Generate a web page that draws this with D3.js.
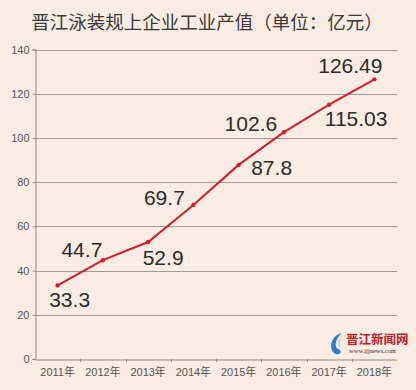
<!DOCTYPE html>
<html>
<head>
<meta charset="utf-8">
<script src="https://d3js.org/d3.v7.min.js"></script>
<style>
  body { margin: 0; background: #fbece3; }
  svg { display: block; }
</style>
</head>
<body>
<div id="chart"></div>
<script>
var years = ["2011年", "2012年", "2013年", "2014年", "2015年", "2016年", "2017年", "2018年"];
var values = [33.3, 44.7, 52.9, 69.7, 87.8, 102.6, 115.03, 126.49];
var valueLabels = ["33.3", "44.7", "52.9", "69.7", "87.8", "102.6", "115.03", "126.49"];
var yTicks = [0, 20, 40, 60, 80, 100, 120, 140];
// where each number sits relative to its point
var labelOffsets = [[12, 22], [-21, -3], [15, 23], [-29, 0], [33, 10], [-33, -1], [27, 21], [-24, -6]];

var width = 416, height = 390;
var plotLeft = 35, plotRight = 397, plotTop = 49.5, plotBottom = 359;

var svg = d3.select("#chart")
    .append("svg")
    .attr("width", width)
    .attr("height", height);

svg.append("rect")
    .attr("width", width)
    .attr("height", height)
    .attr("fill", "#fbece3");

// Title
svg.append("text")
    .attr("x", 207)
    .attr("y", 29)
    .attr("text-anchor", "middle")
    .attr("font-family", "'Noto Sans CJK SC', sans-serif")
    .attr("font-size", "18.5px")
    .attr("fill", "#3a3a3a")
    .text("晋江泳装规上企业工业产值（单位：亿元）");

var xScale = d3.scaleBand()
    .domain(years)
    .range([plotLeft, plotRight]);

var yScale = d3.scaleLinear()
    .domain([0, 140])
    .range([plotBottom, plotTop]);

// Gridlines
svg.append("g")
    .selectAll("line")
    .data(yTicks.filter(function(d) { return d > 0; }))
    .enter().append("line")
    .attr("x1", plotLeft)
    .attr("x2", plotRight)
    .attr("y1", function(d) { return Math.round(yScale(d)) + 0.5; })
    .attr("y2", function(d) { return Math.round(yScale(d)) + 0.5; })
    .attr("stroke", "#a09a96")
    .attr("stroke-width", 1);

// y-axis
var yAxis = svg.append("g")
    .attr("transform", "translate(" + (plotLeft + 0.5) + ",0)")
    .call(d3.axisLeft(yScale).tickValues(yTicks).tickSize(3).tickPadding(3));
yAxis.select(".domain").attr("stroke", "#8f8a86");
yAxis.selectAll(".tick line").attr("stroke", "#8f8a86");
yAxis.selectAll("text")
    .attr("font-family", "'Liberation Sans', Arial, sans-serif")
    .attr("font-size", "11px")
    .attr("fill", "#555");

// x-axis
var xAxis = svg.append("g")
    .attr("transform", "translate(0," + (plotBottom + 0.5) + ")")
    .call(d3.axisBottom(xScale).tickSize(0).tickPadding(9));
xAxis.select(".domain").attr("stroke", "#8f8a86");
xAxis.selectAll("text")
    .attr("font-family", "'Liberation Sans', 'Noto Sans CJK SC', sans-serif")
    .attr("font-size", "11px")
    .attr("fill", "#555");

// small separators between years
svg.append("g")
    .selectAll("line")
    .data(years.slice(1))
    .enter().append("line")
    .attr("x1", function(d) { return Math.round(xScale(d)) + 0.5; })
    .attr("x2", function(d) { return Math.round(xScale(d)) + 0.5; })
    .attr("y1", plotBottom)
    .attr("y2", plotBottom + 3)
    .attr("stroke", "#8f8a86");

// Watermark
var wm = svg.append("g").attr("transform", "translate(330,331)");
wm.append("path")
    .attr("d", "M12,2 C2,4 -2,16 4,22 C9,26 14,20 8,18 C4,16 5,8 12,2 Z")
    .attr("fill", "#2a7cc4");
wm.append("path")
    .attr("d", "M14,4 C8,8 7,15 11,16 C8,12 10,8 14,4 Z")
    .attr("fill", "#6fb4e8");
wm.append("text")
    .attr("x", 16)
    .attr("y", 13)
    .attr("font-family", "'Noto Sans CJK SC', sans-serif")
    .attr("font-weight", "bold")
    .attr("font-size", "12.5px")
    .attr("fill", "#b3202c")
    .text("晋江新闻网");
wm.append("text")
    .attr("x", 19)
    .attr("y", 22)
    .attr("font-family", "'Liberation Serif', serif")
    .attr("font-size", "6.5px")
    .attr("fill", "#333")
    .text("www.ijjnews.com");

// Line
var line = d3.line()
    .x(function(d, i) { return xScale(years[i]) + xScale.bandwidth() / 2; })
    .y(function(d) { return yScale(d); });

svg.append("path")
    .datum(values)
    .attr("d", line)
    .attr("fill", "none")
    .attr("stroke", "#cc1f2f")
    .attr("stroke-width", 2);

svg.append("g")
    .selectAll("circle")
    .data(values)
    .enter().append("circle")
    .attr("cx", function(d, i) { return xScale(years[i]) + xScale.bandwidth() / 2; })
    .attr("cy", function(d) { return yScale(d); })
    .attr("r", 2.2)
    .attr("fill", "#cc1f2f");

// Value labels
svg.append("g")
    .selectAll("text")
    .data(values)
    .enter().append("text")
    .attr("x", function(d, i) { return xScale(years[i]) + xScale.bandwidth() / 2 + labelOffsets[i][0]; })
    .attr("y", function(d, i) { return yScale(d) + labelOffsets[i][1]; })
    .attr("text-anchor", "middle")
    .attr("font-family", "'Liberation Sans', Arial, sans-serif")
    .attr("font-size", "21px")
    .attr("fill", "#2b2b2b")
    .text(function(d, i) { return valueLabels[i]; });
</script>
</body>
</html>
